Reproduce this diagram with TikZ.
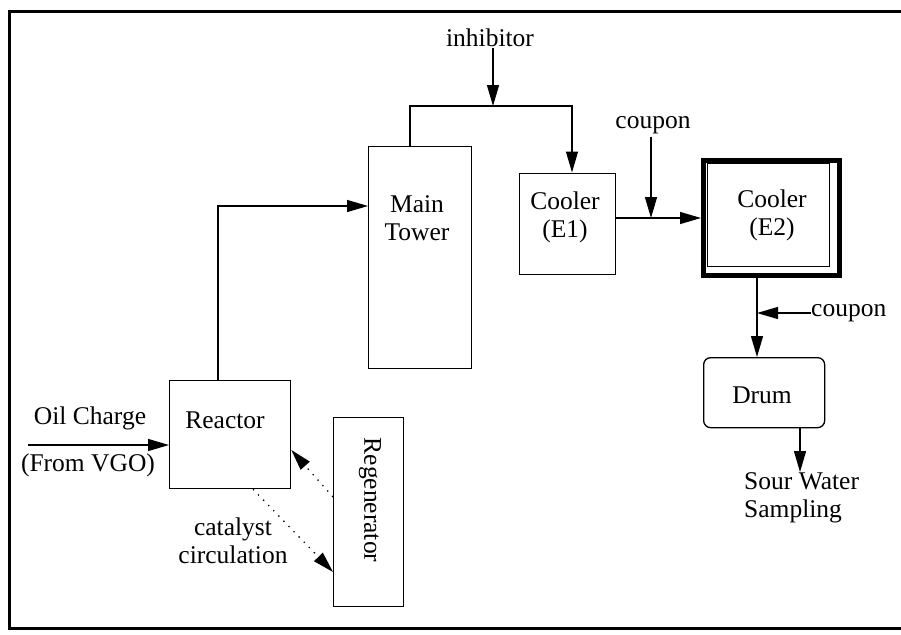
\documentclass[tikz,border=0pt]{standalone}
\usepackage{fontspec}
\setmainfont{Liberation Serif}
\usetikzlibrary{arrows.meta}
\begin{document}
\begin{tikzpicture}[x=1pt,y=-1pt,
  box/.style={draw,line width=1.3pt,inner sep=0pt,anchor=north west},
  txt/.style={inner sep=1pt,font=\fontsize{25.5}{28}\selectfont,align=center},
  flow/.style={line width=1.3pt},
  arr/.style={-{Triangle[length=21pt,width=12pt]}},
  dots/.style={line width=1.3pt,dash pattern=on 1.3pt off 6pt}]
\useasboundingbox (0,0) rectangle (901,634);
\draw[line width=3pt] (912,12) -- (9,12) -- (9,628) -- (912,628);
% boxes
\node[box,minimum width=103pt,minimum height=222pt] (tower) at (368,146) {};
\node[box,minimum width=96pt,minimum height=101pt] (e1) at (519,172.5) {};
\node[box,line width=5pt,minimum width=136pt,minimum height=115.5pt] (e2) at (701,157.5) {};
\node[box,minimum width=122pt,minimum height=103pt] (e2in) at (707,163) {};
\node[box,rounded corners=7pt,minimum width=121pt,minimum height=70pt] (drum) at (703,357) {};
\node[box,minimum width=121pt,minimum height=108pt] (reactor) at (169,380) {};
\node[box,minimum width=70pt,minimum height=189pt] (regen) at (333,417) {};
% box texts
\node[txt] (towertxt) at (417,218) {Main\\Tower};
\node[txt] (e1txt) at (565,217) {Cooler\\(E1)};
\node[txt] (e2txt) at (772,215) {Cooler\\(E2)};
\node[txt] (drumtxt) at (762,395) {Drum};
\node[txt] (reactortxt) at (225,420) {Reactor};
\node[txt,rotate=-90] (regentxt) at (370,500) {Regenerator};
% labels
\node[txt] (inh) at (490,38) {inhibitor};
\node[txt] (cp1) at (653,125) {coupon};
\node[txt,anchor=west,inner sep=0pt] (cp2) at (811,313) {coupon};
\node[txt] (oil) at (90,418) {Oil Charge};
\node[txt] (vgo) at (88,465) {(From VGO)};
\node[txt,align=left,anchor=north west,inner sep=0pt] (sour) at (744,472) {Sour Water\\Sampling};
\node[txt] (cat) at (233,541) {catalyst\\circulation};
% helper coordinates
\coordinate (pipe) at (493,106);
\coordinate (l1) at (0,218);
\coordinate (l2) at (757,0);
\coordinate (l3) at (800,0);
\coordinate (l4) at (0,313);
\coordinate (oilin) at (28,445);
\coordinate (d1) at (0,497);
\coordinate (d2) at (0,450);
\coordinate (d3) at (253,0);
\coordinate (d4) at (0,572);
% connectors
\draw[flow,arr] ([xshift=49pt]reactor.north west) |- ([yshift=-60pt]tower.north west);
\draw[flow,arr] ([xshift=42pt]tower.north west) |- (pipe) -| ([xshift=53pt]e1.north west);
\draw[flow,arr] (inh.south -| pipe) -- (pipe);
\draw[flow,arr] (e1.east |- l1) -- (e2.west |- l1);
\draw[flow,arr] ([yshift=-2pt]cp1.south -| 651,0) -- (651,218);
\draw[flow,arr] (e2.south -| l2) -- (drum.north -| l2);
\draw[flow,arr] (cp2.west |- l4) -- (l2 |- l4);
\draw[flow,arr] (drum.south -| l3) -- (sour.north -| l3);
\draw[flow,arr] (oilin) -- (reactor.west |- oilin);
\draw[dots,arr] (regen.west |- d1) -- (reactor.east |- d2);
\draw[dots,arr] (reactor.south -| d3) -- (regen.west |- d4);
\end{tikzpicture}
\end{document}
